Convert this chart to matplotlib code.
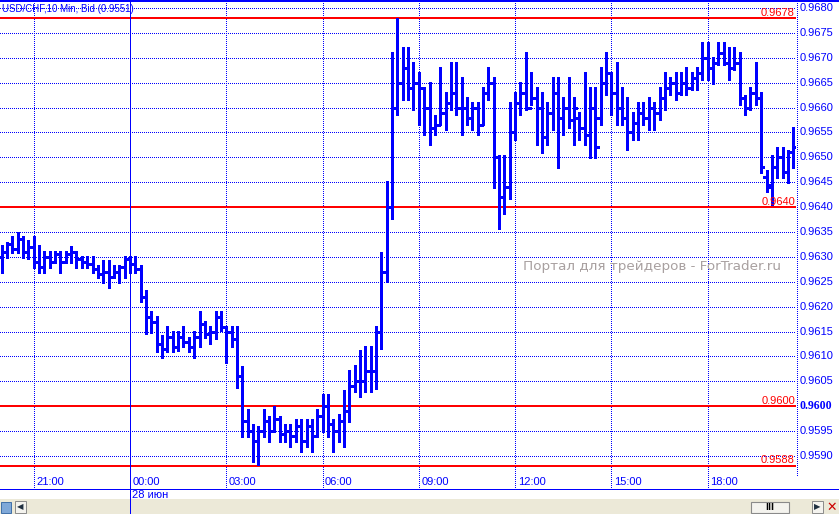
import matplotlib
matplotlib.use('Agg')
import matplotlib.pyplot as plt
from matplotlib.transforms import blended_transform_factory, ScaledTranslation
from matplotlib.patches import Rectangle
from matplotlib.lines import Line2D

# ---------------- data (USD/CHF 10-min bars) ----------------
bar_high = [
    0.96323, 0.96330, 0.96343, 0.96351, 0.96343, 0.96333, 0.96343, 0.96323, 0.96312, 0.96312,
    0.96312, 0.96312, 0.96312, 0.96322, 0.96312, 0.96302, 0.96302, 0.96302, 0.96283, 0.96293,
    0.96293, 0.96283, 0.96283, 0.96302, 0.96302, 0.96302, 0.96283, 0.96233, 0.96191, 0.96181,
    0.96143, 0.96161, 0.96151, 0.96151, 0.96161, 0.96140, 0.96151, 0.96191, 0.96171, 0.96161,
    0.96191, 0.96191, 0.96161, 0.96161, 0.96161, 0.96081, 0.95995, 0.95965, 0.95961, 0.95995,
    0.95981, 0.96001, 0.95981, 0.95965, 0.95965, 0.95975, 0.95975, 0.95975, 0.95975, 0.95995,
    0.96025, 0.96025, 0.95975, 0.95985, 0.96032, 0.96072, 0.96082, 0.96112, 0.96122, 0.96122,
    0.96162, 0.96310, 0.96453, 0.96711, 0.96780, 0.96721, 0.96721, 0.96691, 0.96671, 0.96641,
    0.96651, 0.96585, 0.96681, 0.96631, 0.96691, 0.96691, 0.96661, 0.96621, 0.96611, 0.96611,
    0.96641, 0.96681, 0.96661, 0.96505, 0.96505, 0.96611, 0.96631, 0.96651, 0.96711, 0.96671,
    0.96641, 0.96631, 0.96611, 0.96661, 0.96661, 0.96621, 0.96661, 0.96621, 0.96591, 0.96671,
    0.96641, 0.96641, 0.96681, 0.96711, 0.96671, 0.96691, 0.96641, 0.96621, 0.96591, 0.96611,
    0.96611, 0.96621, 0.96611, 0.96641, 0.96671, 0.96661, 0.96671, 0.96671, 0.96681, 0.96671,
    0.96681, 0.96731, 0.96731, 0.96701, 0.96731, 0.96731, 0.96721, 0.96721, 0.96711, 0.96625,
    0.96641, 0.96691, 0.96631, 0.96475, 0.96505, 0.96521, 0.96521, 0.96515, 0.96561,
]
bar_low = [
    0.96268, 0.96297, 0.96307, 0.96307, 0.96297, 0.96295, 0.96277, 0.96268, 0.96268, 0.96277,
    0.96287, 0.96268, 0.96287, 0.96287, 0.96277, 0.96277, 0.96277, 0.96267, 0.96257, 0.96247,
    0.96237, 0.96258, 0.96247, 0.96258, 0.96267, 0.96268, 0.96209, 0.96145, 0.96148, 0.96108,
    0.96096, 0.96108, 0.96108, 0.96111, 0.96118, 0.96108, 0.96096, 0.96118, 0.96138, 0.96125,
    0.96135, 0.96151, 0.96086, 0.96118, 0.96036, 0.95938, 0.95938, 0.95888, 0.95881, 0.95938,
    0.95928, 0.95948, 0.95928, 0.95929, 0.95919, 0.95929, 0.95909, 0.95919, 0.95909, 0.95939,
    0.95949, 0.95939, 0.95909, 0.95929, 0.95919, 0.95969, 0.96029, 0.96019, 0.96029, 0.96029,
    0.96035, 0.96115, 0.96250, 0.96377, 0.96585, 0.96615, 0.96615, 0.96595, 0.96565, 0.96545,
    0.96525, 0.96545, 0.96565, 0.96555, 0.96595, 0.96585, 0.96545, 0.96565, 0.96555, 0.96545,
    0.96565, 0.96615, 0.96438, 0.96357, 0.96386, 0.96417, 0.96535, 0.96585, 0.96595, 0.96605,
    0.96525, 0.96508, 0.96525, 0.96555, 0.96478, 0.96545, 0.96560, 0.96525, 0.96535, 0.96525,
    0.96498, 0.96498, 0.96565, 0.96625, 0.96585, 0.96565, 0.96565, 0.96515, 0.96535, 0.96535,
    0.96565, 0.96555, 0.96555, 0.96575, 0.96595, 0.96625, 0.96615, 0.96625, 0.96625, 0.96635,
    0.96635, 0.96655, 0.96655, 0.96648, 0.96685, 0.96685, 0.96655, 0.96675, 0.96605, 0.96585,
    0.96595, 0.96605, 0.96468, 0.96430, 0.96405, 0.96458, 0.96458, 0.96448, 0.96478,
]
bar_open = [
    0.96300, 0.96310, 0.96325, 0.96315, 0.96335, 0.96310, 0.96320, 0.96290, 0.96280, 0.96300,
    0.96290, 0.96305, 0.96290, 0.96305, 0.96310, 0.96295, 0.96290, 0.96285, 0.96275, 0.96265,
    0.96270, 0.96260, 0.96270, 0.96280, 0.96295, 0.96285, 0.96275, 0.96220, 0.96180, 0.96170,
    0.96125, 0.96115, 0.96140, 0.96120, 0.96140, 0.96130, 0.96120, 0.96140, 0.96165, 0.96145,
    0.96150, 0.96180, 0.96160, 0.96150, 0.96135, 0.96060, 0.95970, 0.95950, 0.95930, 0.95950,
    0.95970, 0.95950, 0.95975, 0.95945, 0.95950, 0.95940, 0.95960, 0.95930, 0.95960, 0.95940,
    0.95980, 0.96000, 0.95965, 0.95950, 0.95970, 0.95990, 0.96040, 0.96050, 0.96050, 0.96070,
    0.96070, 0.96150, 0.96270, 0.96400, 0.96600, 0.96650, 0.96680, 0.96640, 0.96650, 0.96640,
    0.96600, 0.96560, 0.96565, 0.96590, 0.96610, 0.96630, 0.96600, 0.96600, 0.96580, 0.96600,
    0.96565, 0.96630, 0.96650, 0.96500, 0.96420, 0.96440, 0.96550, 0.96610, 0.96630, 0.96600,
    0.96620, 0.96600, 0.96540, 0.96590, 0.96630, 0.96580, 0.96600, 0.96575, 0.96580, 0.96560,
    0.96545, 0.96600, 0.96580, 0.96650, 0.96670, 0.96630, 0.96600, 0.96580, 0.96550, 0.96570,
    0.96590, 0.96580, 0.96600, 0.96590, 0.96620, 0.96640, 0.96650, 0.96630, 0.96650, 0.96640,
    0.96660, 0.96670, 0.96700, 0.96680, 0.96690, 0.96710, 0.96690, 0.96680, 0.96690, 0.96620,
    0.96600, 0.96630, 0.96620, 0.96460, 0.96445, 0.96480, 0.96500, 0.96470, 0.96510,
]
bar_close = [
    0.96310, 0.96325, 0.96315, 0.96335, 0.96310, 0.96320, 0.96290, 0.96280, 0.96300, 0.96290,
    0.96305, 0.96290, 0.96305, 0.96310, 0.96295, 0.96290, 0.96285, 0.96275, 0.96265, 0.96270,
    0.96260, 0.96270, 0.96280, 0.96295, 0.96285, 0.96275, 0.96220, 0.96180, 0.96170, 0.96125,
    0.96115, 0.96140, 0.96120, 0.96140, 0.96130, 0.96120, 0.96140, 0.96165, 0.96145, 0.96150,
    0.96180, 0.96160, 0.96150, 0.96135, 0.96060, 0.95970, 0.95950, 0.95930, 0.95950, 0.95970,
    0.95950, 0.95975, 0.95945, 0.95950, 0.95940, 0.95960, 0.95930, 0.95960, 0.95940, 0.95980,
    0.96000, 0.95965, 0.95950, 0.95970, 0.95990, 0.96040, 0.96050, 0.96050, 0.96070, 0.96070,
    0.96150, 0.96270, 0.96400, 0.96600, 0.96650, 0.96680, 0.96640, 0.96650, 0.96640, 0.96600,
    0.96560, 0.96565, 0.96590, 0.96610, 0.96630, 0.96600, 0.96600, 0.96580, 0.96600, 0.96565,
    0.96630, 0.96650, 0.96500, 0.96420, 0.96440, 0.96550, 0.96610, 0.96630, 0.96600, 0.96620,
    0.96600, 0.96540, 0.96590, 0.96630, 0.96580, 0.96600, 0.96575, 0.96600, 0.96560, 0.96545,
    0.96600, 0.96520, 0.96650, 0.96670, 0.96630, 0.96600, 0.96580, 0.96550, 0.96570, 0.96590,
    0.96580, 0.96600, 0.96590, 0.96620, 0.96640, 0.96650, 0.96630, 0.96650, 0.96640, 0.96660,
    0.96670, 0.96700, 0.96680, 0.96690, 0.96710, 0.96690, 0.96680, 0.96690, 0.96620, 0.96600,
    0.96630, 0.96620, 0.96480, 0.96440, 0.96480, 0.96500, 0.96470, 0.96510, 0.96520,
]

time_tick_bars = [6, 24, 42, 60, 78, 96, 114, 132]
time_tick_labels = ['21:00', '00:00', '03:00', '06:00', '09:00', '12:00', '15:00', '18:00']
day_break_bar = 24
day_label = '28 июн'

price_ticks = [0.9590, 0.9595, 0.9600, 0.9605, 0.9610, 0.9615, 0.9620, 0.9625, 0.9630,
               0.9635, 0.9640, 0.9645, 0.9650, 0.9655, 0.9660, 0.9665, 0.9670, 0.9675, 0.9680]
bold_price = 0.9600
level_lines = [0.9678, 0.9640, 0.9600, 0.9588]

title_text = 'USD/CHF,10 Min, Bid (0.9551)'
watermark_text = 'Портал для трейдеров - ForTrader.ru'

# ---------------- figure ----------------
W, H, DPI = 839, 514, 100
BLUE = '#0000FF'
RED = '#FF0000'
PX = 72.0 / DPI  # points per pixel

fig = plt.figure(figsize=(W / DPI, H / DPI), dpi=DPI, facecolor='white')

ax_left, ax_right = 0, 796
ax_top, ax_bot = 1, 489
ax = fig.add_axes([ax_left / W, 1 - ax_bot / H, (ax_right - ax_left) / W, (ax_bot - ax_top) / H])
ax.set_facecolor('white')
for s in ax.spines.values():
    s.set_visible(False)
ax.set_xticks([])
ax.set_yticks([])

ax.set_xlim(-0.30, 148.51)
ax.set_ylim(0.958337, 0.9681416)

dot = (0, (1, 2))

# horizontal grid
for p in price_ticks:
    ax.axhline(p, color=BLUE, lw=1 * PX, ls=dot, zorder=1, antialiased=False)
# vertical grid
for b in time_tick_bars:
    if b == day_break_bar:
        continue
    ax.axvline(b, color=BLUE, lw=1 * PX, ls=dot, zorder=1, antialiased=False)

# level lines (2 px: two adjacent 1-px lines)
hb = blended_transform_factory(ax.transAxes, ax.transData)
for lv in level_lines:
    for dy in (0, 1):
        ax.plot([0, 1], [lv, lv], color=RED, lw=1 * PX, zorder=2, antialiased=False,
                transform=hb + ScaledTranslation(0, dy / DPI, fig.dpi_scale_trans))
    ax.text(148.3, lv, f'{lv:.4f}', color=RED, fontsize=8, family='Liberation Sans',
            ha='right', va='baseline', zorder=5,
            transform=ax.transData + ScaledTranslation(0, 2.5 / DPI, fig.dpi_scale_trans))

# OHLC bars
n = len(bar_high)
xs = list(range(n))
lw = 3.0 * PX
ax.vlines(xs, bar_low, bar_high, color=BLUE, lw=lw, zorder=3, capstyle='butt', antialiased=False)
ax.hlines(bar_open, [x - 0.62 for x in xs], xs, color=BLUE, lw=lw, zorder=3, antialiased=False)
ax.hlines(bar_close, xs, [x + 0.62 for x in xs], color=BLUE, lw=lw, zorder=3, antialiased=False)

# watermark
ax.text(0.6565, 0.9628, watermark_text, transform=hb,
        color='#A8A0A0', fontsize=9.7, family='DejaVu Sans', ha='left', va='center', zorder=4)

# title
fig.text(2 / W, 1 - 9 / H, title_text, color=BLUE, fontsize=7, family='Liberation Sans',
         ha='left', va='center')

# top blue border
fig.add_artist(Line2D([0, 1], [1 - 0.5 / H, 1 - 0.5 / H], color=BLUE, lw=2 * PX,
                      transform=fig.transFigure, antialiased=False))
# bottom blue line
fig.add_artist(Line2D([0, 1], [1 - 489 / H, 1 - 489 / H], color=BLUE, lw=1 * PX,
                      transform=fig.transFigure, antialiased=False))

# right axis dotted line
xr = 796.5 / W
fig.add_artist(Line2D([xr, xr], [1 - 475 / H, 1], color=BLUE, lw=1 * PX, ls=dot,
                      transform=fig.transFigure, antialiased=False))

# right price labels
bt = blended_transform_factory(fig.transFigure, ax.transData)
for p in price_ticks:
    if abs(p - bold_price) < 1e-9:
        fig.text(800 / W, p, f'{p:.4f}', transform=bt, color=BLUE, fontsize=8.5,
                 family='Liberation Serif', weight='bold', ha='left', va='center')
    else:
        fig.text(800 / W, p, f'{p:.4f}', transform=bt, color=BLUE, fontsize=8,
                 family='Liberation Sans', ha='left', va='center')

# time labels
tt = blended_transform_factory(ax.transData, fig.transFigure)
off = ScaledTranslation(2.5 / DPI, 0, fig.dpi_scale_trans)
for b, lab in zip(time_tick_bars, time_tick_labels):
    fig.text(b, 1 - 482 / H, lab, transform=tt + off, color=BLUE, fontsize=8,
             family='Liberation Sans', ha='left', va='center')

# day break line (solid) extending below the axis
fig.add_artist(Line2D([day_break_bar, day_break_bar], [0, 1], color=BLUE, lw=1 * PX,
                      transform=tt, antialiased=False))
fig.text(day_break_bar, 1 - 494.5 / H, day_label, transform=tt + off, color=BLUE, fontsize=8,
         family='Liberation Sans', ha='left', va='center')

# bottom scrollbar strip
GRAY = '#ECE9D8'
fig.add_artist(Rectangle((0, 0), 1, 15 / H, transform=fig.transFigure, facecolor=GRAY, edgecolor='none', zorder=0.5))
fig.add_artist(Rectangle((15 / W, 1 / H), 11 / W, 12 / H, transform=fig.transFigure,
                         facecolor='#F4F3EE', edgecolor='#8A8A8A', lw=0.7, zorder=1))
fig.text(20.5 / W, 7 / H, '◀', color='#203040', fontsize=6, ha='center', va='center', family='DejaVu Sans')
fig.add_artist(Rectangle((751 / W, 1.5 / H), 38 / W, 11 / H, transform=fig.transFigure,
                         facecolor='#F4F3EE', edgecolor='#8A8A8A', lw=0.8, zorder=1))
fig.text(770 / W, 7 / H, 'III', color='black', fontsize=6, weight='bold', ha='center', va='center',
         family='DejaVu Sans')
fig.add_artist(Rectangle((812 / W, 1 / H), 11 / W, 12 / H, transform=fig.transFigure,
                         facecolor='#F4F3EE', edgecolor='#8A8A8A', lw=0.7, zorder=1))
fig.text(817.5 / W, 7 / H, '▶', color='#203040', fontsize=6, ha='center', va='center', family='DejaVu Sans')
fig.text(832 / W, 7 / H, '✕', color='#CC0000', fontsize=9, weight='bold', ha='center', va='center',
         family='DejaVu Sans')
fig.add_artist(Rectangle((1 / W, 1.5 / H), 10 / W, 11 / H, transform=fig.transFigure,
                         facecolor='#7FA8D8', edgecolor='#4070A8', lw=0.7, zorder=1))

fig.savefig('out.png', dpi=DPI, facecolor='white')
